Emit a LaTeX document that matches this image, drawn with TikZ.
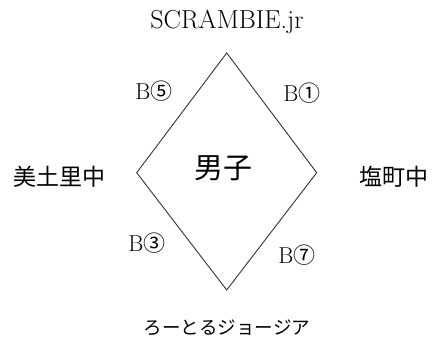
\documentclass[tikz,border=0pt]{standalone}
\usepackage{fontspec}
\newfontfamily\cjk{Noto Sans CJK JP}
\tikzset{
  edge/.style={draw=black!80, line width=0.9pt},
  team/.style={font=\cjk\fontsize{23}{26}\selectfont, inner sep=0pt},
  game/.style={font=\fontsize{23}{25}\selectfont, inner sep=0pt},
}
\newcommand{\circd}[1]{{\cjk\fontsize{22}{24}\selectfont #1}}
\begin{document}
\begin{tikzpicture}[x=1pt,y=-1pt]
\useasboundingbox (0,0) rectangle (433,343);
\coordinate (T) at (226.7,53);
\coordinate (L) at (136.7,172.7);
\coordinate (R) at (316.7,172.7);
\coordinate (Bo) at (226.7,290);
\draw[edge, line join=miter] (T) -- (R) -- (Bo) -- (L) -- cycle;
\node[inner sep=0pt, font=\fontsize{26}{28}\selectfont] (top) at (227,22) {SCRAMBIE.jr};
\node[team] (left) at (59,177) {美土里中};
\node[team] (right) at (394,177) {塩町中};
\node[inner sep=0pt, font=\cjk\fontsize{29}{32}\selectfont] (center) at (223,168) {男子};
\node[inner sep=0pt, font=\cjk\fontsize{18.5}{20}\selectfont] (bottom) at (227,328) {ろーとるジョージア};
\node[game] (g5) at (154,91) {B\circd{⑤}};
\node[game] (g1) at (302,93) {B\circd{①}};
\node[game] (g3) at (147,243) {B\circd{③}};
\node[game] (g7) at (297,255) {B\circd{⑦}};
\end{tikzpicture}
\end{document}
